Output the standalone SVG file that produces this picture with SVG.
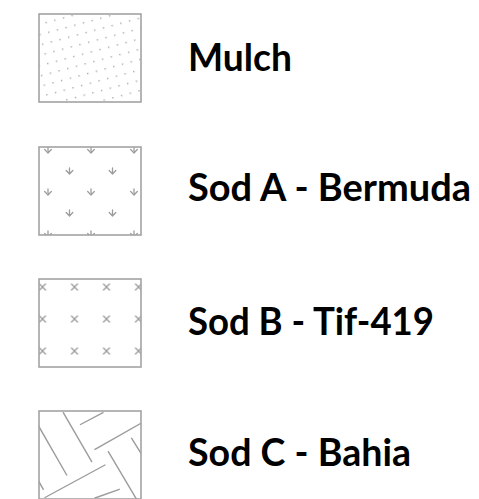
<svg xmlns="http://www.w3.org/2000/svg" width="479" height="499" viewBox="0 0 479 499">
<defs>
<style>
.box{fill:none;stroke:#a3a3a3;stroke-width:1.6}
.lbl{font-family:Lato,"Open Sans","Liberation Sans",sans-serif;font-weight:700;font-size:38px;fill:#000}
.mk{fill:none;stroke:#9c9c9c;stroke-width:1.3;stroke-linecap:round}
</style>
<pattern id="pMulch" patternUnits="userSpaceOnUse" width="9" height="10" patternTransform="rotate(-15)">
<rect x="2" y="3" width="1.4" height="1.4" fill="#a8a8a8"/>
</pattern>
<pattern id="pSodA" patternUnits="userSpaceOnUse" x="48" y="150" width="43" height="42">
<g class="mk">
<path d="M0,-3V3M-3.3,-0.5L0,3L3.3,-0.5" transform="translate(0,0)"/>
<path d="M0,-3V3M-3.3,-0.5L0,3L3.3,-0.5" transform="translate(43,0)"/>
<path d="M0,-3V3M-3.3,-0.5L0,3L3.3,-0.5" transform="translate(0,42)"/>
<path d="M0,-3V3M-3.3,-0.5L0,3L3.3,-0.5" transform="translate(43,42)"/>
<path d="M0,-3V3M-3.3,-0.5L0,3L3.3,-0.5" transform="translate(21.5,21)"/>
</g>
</pattern>
<pattern id="pSodB" patternUnits="userSpaceOnUse" x="42.5" y="287" width="32" height="32">
<g class="mk">
<path d="M-3,-3L3,3M3,-3L-3,3"/>
<path d="M29,-3L35,3M35,-3L29,3"/>
<path d="M-3,29L3,35M3,29L-3,35"/>
<path d="M29,29L35,35M35,29L29,35"/>
</g>
</pattern>
<clipPath id="cC"><rect x="39" y="411" width="102" height="88"/></clipPath>
</defs>

<g id="node-mulch">
<rect x="39" y="14" width="102" height="88" fill="url(#pMulch)"/>
<rect class="box" x="39" y="14" width="102" height="88"/>
<text class="lbl" x="188" y="71" textLength="104" lengthAdjust="spacingAndGlyphs">Mulch</text>
</g>

<g id="node-sod-a">
<rect x="39" y="147" width="102" height="88" fill="url(#pSodA)"/>
<rect class="box" x="39" y="147" width="102" height="88"/>
<text class="lbl" x="188" y="201" textLength="283" lengthAdjust="spacingAndGlyphs">Sod A - Bermuda</text>
</g>

<g id="node-sod-b">
<rect x="39" y="279" width="102" height="88" fill="url(#pSodB)"/>
<rect class="box" x="39" y="279" width="102" height="88"/>
<text class="lbl" x="188" y="335" textLength="246" lengthAdjust="spacingAndGlyphs">Sod B - Tif-419</text>
</g>

<g id="node-sod-c">
<g clip-path="url(#cC)" class="mk" style="stroke-width:1.4">
<path d="M63.3,412.7L91.7,461.7"/>
<path d="M80.5,424.5L103,412.7"/>
<path d="M38,425L66.7,475"/>
<path d="M95,449.3L142,422.7"/>
<path d="M131.7,438.3L142,455"/>
<path d="M108.3,451.7L137,500"/>
<path d="M45,497.5L105,465"/>
<path d="M38,480L43.3,489.3"/>
<path d="M95,498L119.3,489.3"/>
</g>
<rect class="box" x="39" y="411" width="102" height="88"/>
<text class="lbl" x="188" y="466" textLength="223" lengthAdjust="spacingAndGlyphs">Sod C - Bahia</text>
</g>

<g id="connectors"></g>
</svg>
